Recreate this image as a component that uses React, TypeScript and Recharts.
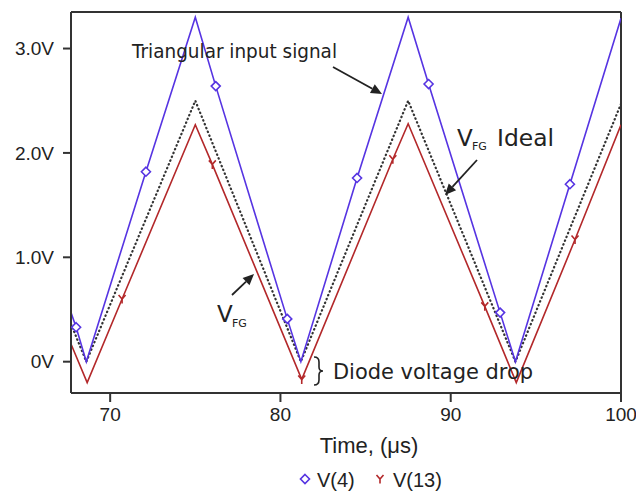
import { LineChart, Line, XAxis, YAxis, ReferenceLine } from 'recharts'

// V(4): triangular input signal
const inputT = [67.7, 68.0, 68.6, 72.1, 75.0, 76.2, 80.4, 81.2, 84.5, 87.5, 88.7, 92.9, 93.8, 97.0, 100]
const inputV = [0.47, 0.33, 0.0, 1.82, 3.3, 2.64, 0.41, 0.0, 1.76, 3.3, 2.66, 0.47, 0.0, 1.7, 3.29]
const inputMarks = [68.0, 72.1, 76.2, 80.4, 84.5, 88.7, 92.9, 97.0]

// ideal floating-gate voltage (dotted)
const idealT = [67.7, 68.6, 75.0, 81.2, 87.5, 93.8, 100]
const idealV = [0.36, 0.0, 2.5, 0.0, 2.5, 0.0, 2.47]

// V(13): floating-gate voltage after the diode drop
const outT = [67.7, 68.65, 70.7, 75.0, 76.0, 81.25, 86.6, 87.5, 92.0, 93.85, 97.3, 100]
const outV = [0.17, -0.2, 0.6, 2.27, 1.89, -0.17, 1.94, 2.28, 0.53, -0.2, 1.17, 2.27]
const outMarks = [70.7, 76.0, 81.25, 86.6, 92.0, 97.3]

const xTicks = [70, 80, 90, 100]
const yTicks = [0, 1, 2, 3]

const X_MIN = 67.7
const X_MAX = 100
const Y_MIN = -0.3
const Y_MAX = 3.35

const BLUE = '#5634e2'
const RED = '#b3282a'
const INK = '#222'

const toRows = (ts: number[], vs: number[]) => ts.map((t, i) => ({ t, v: vs[i] }))
const inputData = toRows(inputT, inputV)
const idealData = toRows(idealT, idealV)
const outData = toRows(outT, outV)

function Diamond({ cx, cy }: { cx: number; cy: number }) {
  const r = 4.5
  return (
    <path
      d={`M${cx},${cy - r}L${cx + r},${cy}L${cx},${cy + r}L${cx - r},${cy}Z`}
      fill="#fff"
      stroke={BLUE}
      strokeWidth={1.6}
    />
  )
}

function YMark({ cx, cy }: { cx: number; cy: number }) {
  return (
    <path
      d={`M${cx - 3.5},${cy - 4}L${cx},${cy}L${cx + 3.5},${cy - 4}M${cx},${cy}L${cx},${cy + 4.5}`}
      fill="none"
      stroke={RED}
      strokeWidth={1.6}
    />
  )
}

function markerDot(marks: number[], Shape: typeof Diamond) {
  return (props: any) => {
    const { cx, cy, payload, index } = props
    if (!marks.includes(payload.t)) return <g key={`d${index}`} />
    return (
      <g key={`d${index}`}>
        <Shape cx={cx} cy={cy} />
      </g>
    )
  }
}

function Arrow({ x1, y1, x2, y2 }: { x1: number; y1: number; x2: number; y2: number }) {
  const a = Math.atan2(y2 - y1, x2 - x1)
  const len = 11
  const w = 5
  const bx = x2 - len * Math.cos(a)
  const by = y2 - len * Math.sin(a)
  const px = -Math.sin(a) * w
  const py = Math.cos(a) * w
  return (
    <g>
      <line x1={x1} y1={y1} x2={bx} y2={by} stroke={INK} strokeWidth={1.8} />
      <path d={`M${x2},${y2}L${bx + px},${by + py}L${bx - px},${by - py}Z`} fill={INK} />
    </g>
  )
}

const annoFont = '"DejaVu Sans", sans-serif'
const axisFont = '"Liberation Sans", Arial, sans-serif'

export default function App() {
  return (
    <div style={{ position: 'relative', width: 636, height: 487 }}>
      <LineChart
        width={636}
        height={487}
        margin={{ top: 4, right: 23, bottom: 72, left: 8 }}
      >
        <XAxis
          dataKey="t"
          type="number"
          domain={[X_MIN, X_MAX]}
          ticks={xTicks}
          allowDataOverflow
          height={30}
          tickSize={9}
          tickMargin={6}
          stroke="#333"
          strokeWidth={2}
          tick={{ fill: INK, fontSize: 19, fontFamily: axisFont }}
        />
        <YAxis
          type="number"
          domain={[Y_MIN, Y_MAX]}
          ticks={yTicks}
          allowDataOverflow
          width={55}
          tickSize={8}
          tickMargin={9}
          stroke="#333"
          strokeWidth={2}
          tickFormatter={(v: number) => (v === 0 ? '0V' : `${v.toFixed(1)}V`)}
          tick={{ fill: INK, fontSize: 19, fontFamily: axisFont }}
        />
        <ReferenceLine y={Y_MAX} stroke="#333" strokeWidth={2} />
        <ReferenceLine x={X_MAX} stroke="#333" strokeWidth={2} />
        <Line
          data={idealData}
          dataKey="v"
          type="linear"
          stroke="#333"
          strokeWidth={2.2}
          strokeDasharray="0.5 3.6"
          strokeLinecap="round"
          dot={false}
          isAnimationActive={false}
        />
        <Line
          data={outData}
          dataKey="v"
          type="linear"
          stroke={RED}
          strokeWidth={1.6}
          dot={markerDot(outMarks, YMark)}
          isAnimationActive={false}
        />
        <Line
          data={inputData}
          dataKey="v"
          type="linear"
          stroke={BLUE}
          strokeWidth={1.6}
          dot={markerDot(inputMarks, Diamond)}
          isAnimationActive={false}
        />
      </LineChart>

      <svg
        width={636}
        height={487}
        style={{ position: 'absolute', left: 0, top: 0, pointerEvents: 'none' }}
      >
        <g fill={INK} fontFamily={annoFont}>
          <text x={124} y={50} fontSize={20} textLength={205} lengthAdjust="spacingAndGlyphs">
            Triangular input signal
          </text>
          <Arrow x1={325} y1={59} x2={374} y2={86} />

          <text x={449} y={138} fontSize={23}>V</text>
          <text x={464} y={142} fontSize={11}>FG</text>
          <text x={489} y={138} fontSize={23} textLength={57} lengthAdjust="spacingAndGlyphs">Ideal</text>
          <Arrow x1={469} y1={152} x2={437} y2={187} />

          <text x={209} y={314} fontSize={23}>V</text>
          <text x={224} y={319} fontSize={11}>FG</text>
          <Arrow x1={224} y1={287} x2={246} y2={266} />

          <path
            d="M306,349 q5,0 5,5 v5 q0,4 4,4 q-4,0 -4,4 v5 q0,5 -5,5"
            fill="none"
            stroke={INK}
            strokeWidth={1.6}
          />
          <text x={325} y={371} fontSize={22} textLength={200} lengthAdjust="spacingAndGlyphs">
            Diode voltage drop
          </text>
        </g>

        <text
          x={361}
          y={445}
          textAnchor="middle"
          fontSize={22}
          fill={INK}
          fontFamily={axisFont}
        >
          Time, (μs)
        </text>

        {/* legend */}
        <Diamond cx={297} cy={471} />
        <text x={309} y={479} fontSize={20} fill={INK} fontFamily={axisFont}>V(4)</text>
        <YMark cx={372} cy={471} />
        <text x={385} y={479} fontSize={20} fill={INK} fontFamily={axisFont}>V(13)</text>
      </svg>
    </div>
  )
}
